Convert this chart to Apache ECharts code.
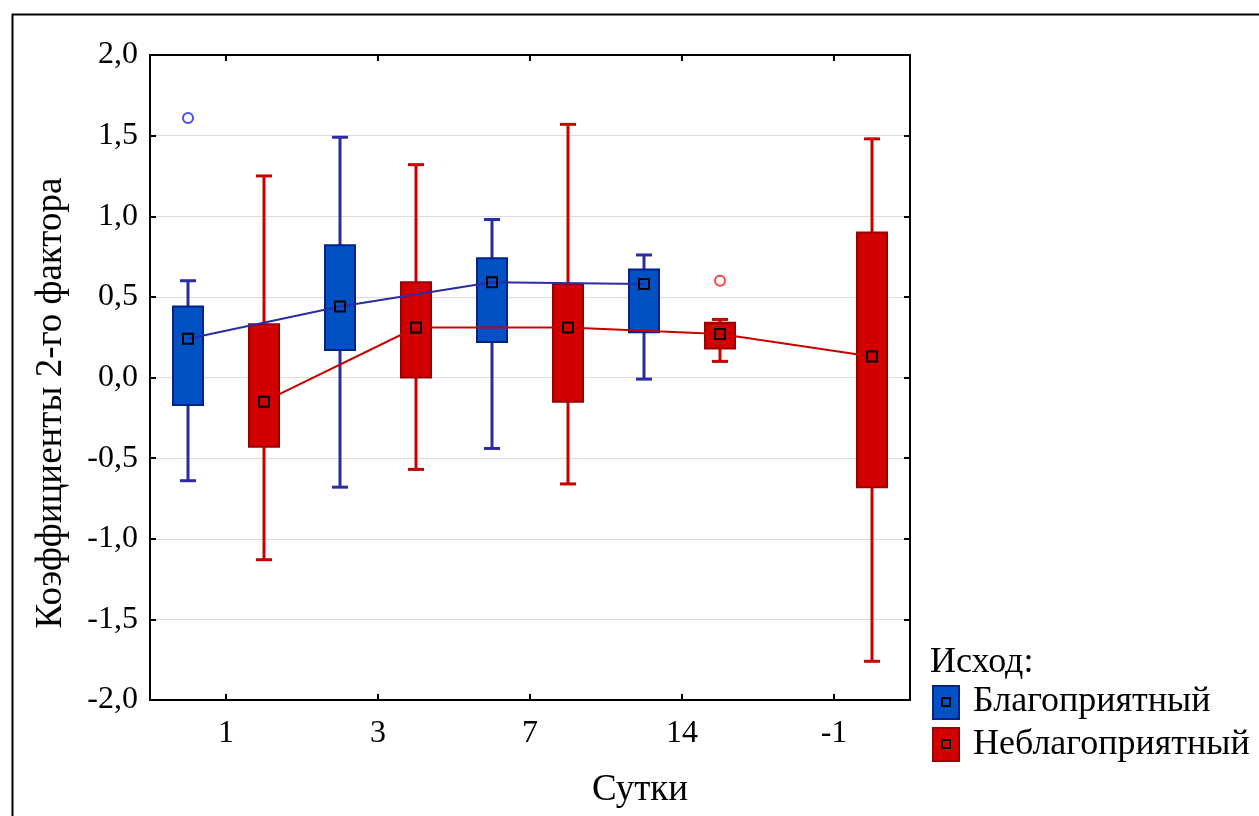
<!DOCTYPE html>
<html>
<head>
<meta charset="utf-8">
<script src="https://cdn.jsdelivr.net/npm/echarts@6/dist/echarts.min.js"></script>
<style>
html,body{margin:0;padding:0;background:#fff;}
#chart{width:1259px;height:816px;}
</style>
</head>
<body>
<div id="chart"></div>
<script>
// ---- data ----
var categories = ['1', '3', '7', '14', '-1'];
var yTicks = [-2.0, -1.5, -1.0, -0.5, 0.0, 0.5, 1.0, 1.5, 2.0];

// Благоприятный (blue) — categories 0..3
var blueIdx  = [0, 1, 2, 3];
var blueLow  = [-0.64, -0.68, -0.44, -0.01];
var blueQ1   = [-0.17, 0.17, 0.22, 0.28];
var blueMean = [0.24, 0.44, 0.59, 0.58];
var blueQ3   = [0.44, 0.82, 0.74, 0.67];
var blueHigh = [0.60, 1.49, 0.98, 0.76];
var blueOutCat = [0];
var blueOutVal = [1.61];

// Неблагоприятный (red) — categories 0..4
var redIdx  = [0, 1, 2, 3, 4];
var redLow  = [-1.13, -0.57, -0.66, 0.10, -1.76];
var redQ1   = [-0.43, 0.00, -0.15, 0.18, -0.68];
var redMean = [-0.15, 0.31, 0.31, 0.27, 0.13];
var redQ3   = [0.33, 0.59, 0.58, 0.34, 0.90];
var redHigh = [1.25, 1.32, 1.57, 0.36, 1.48];
var redOutCat = [3];
var redOutVal = [0.60];

var seriesNames = ['Благоприятный', 'Неблагоприятный'];
var legendTitle = 'Исход:';
var xTitle = 'Сутки';
var yTitle = 'Коэффициенты 2-го фактора';

// ---- styles ----
var FONT = 'Liberation Serif';
var blueStyle = {fill: '#0052c4', border: '#00208c', whisker: '#2b2ba6', line: '#2b2ba6', outlier: '#1a1aff', offset: -0.25};
var redStyle  = {fill: '#d20000', border: '#9c0000', whisker: '#c80000', line: '#c80000', outlier: '#ff1010', offset: 0.25};

function boxData(idx, low, q1, q3, high, off) {
  return idx.map(function (c, i) { return [c + off, low[i], q1[i], q3[i], high[i]]; });
}
function meanData(idx, mean, off) {
  return idx.map(function (c, i) { return [c + off, mean[i]]; });
}
function outData(cats, vals, off) {
  return cats.map(function (c, i) { return [c + off, vals[i]]; });
}

function makeRender(st) {
  return function (params, api) {
    var x = api.value(0);
    var pLow = api.coord([x, api.value(1)]);
    var pQ1 = api.coord([x, api.value(2)]);
    var pQ3 = api.coord([x, api.value(3)]);
    var pHigh = api.coord([x, api.value(4)]);
    var cx = pLow[0];
    var bw = 30, cw = 16;
    return {
      type: 'group',
      children: [
        {type: 'line', shape: {x1: cx, y1: pLow[1], x2: cx, y2: pHigh[1]}, style: {stroke: st.whisker, lineWidth: 3}},
        {type: 'line', shape: {x1: cx - cw / 2, y1: pLow[1], x2: cx + cw / 2, y2: pLow[1]}, style: {stroke: st.whisker, lineWidth: 3}},
        {type: 'line', shape: {x1: cx - cw / 2, y1: pHigh[1], x2: cx + cw / 2, y2: pHigh[1]}, style: {stroke: st.whisker, lineWidth: 3}},
        {type: 'rect', shape: {x: cx - bw / 2, y: pQ3[1], width: bw, height: pQ1[1] - pQ3[1]}, style: {fill: st.fill, stroke: st.border, lineWidth: 2}}
      ]
    };
  };
}

function boxSeries(name, st, data) {
  return {
    name: name, type: 'custom', xAxisIndex: 2, yAxisIndex: 0,
    renderItem: makeRender(st), data: data,
    encode: {x: 0, y: [1, 2, 3, 4]}, z: 2, silent: true
  };
}
function meanSeries(name, st, data) {
  return {
    name: name + ' mean', type: 'line', xAxisIndex: 2, yAxisIndex: 0, data: data,
    symbol: 'rect', symbolSize: 10, showSymbol: true,
    lineStyle: {color: st.line, width: 2},
    itemStyle: {color: 'rgba(0,0,0,0)', borderColor: '#000', borderWidth: 2},
    z: 4, silent: true, animation: false
  };
}
function outSeries(name, st, data) {
  return {
    name: name + ' out', type: 'scatter', xAxisIndex: 2, yAxisIndex: 0, data: data,
    symbol: 'circle', symbolSize: 10,
    itemStyle: {color: 'rgba(0,0,0,0)', borderColor: st.outlier, borderWidth: 2},
    z: 4, silent: true
  };
}

var chart = echarts.init(document.getElementById('chart'), null, {renderer: 'canvas'});

var yLabelFmt = function (v) { return v.toFixed(1).replace('.', ','); };

var axisLineStyle = {show: true, onZero: false, lineStyle: {color: '#000', width: 2}};
var tickStyle = {show: true, inside: true, length: 6, lineStyle: {color: '#000', width: 2}};

var option = {
  backgroundColor: '#ffffff',
  animation: false,
  grid: {left: 150, top: 55, width: 760, height: 645, containLabel: false},
  xAxis: [
    {
      type: 'category', data: categories, position: 'bottom', boundaryGap: true,
      axisLine: axisLineStyle,
      axisTick: Object.assign({alignWithLabel: true}, tickStyle),
      axisLabel: {fontFamily: FONT, fontSize: 32, color: '#000', margin: 18},
      splitLine: {show: false}
    },
    {
      type: 'category', data: categories, position: 'top', boundaryGap: true,
      axisLine: axisLineStyle,
      axisTick: Object.assign({alignWithLabel: true}, tickStyle),
      axisLabel: {show: false}, splitLine: {show: false}
    },
    {
      type: 'value', min: -0.5, max: 4.5, show: false,
      axisLine: {onZero: false}
    }
  ],
  yAxis: [
    {
      type: 'value', min: -2, max: 2, interval: 0.5, position: 'left',
      axisLine: axisLineStyle,
      axisTick: tickStyle,
      axisLabel: {fontFamily: FONT, fontSize: 32, color: '#000', margin: 12, formatter: yLabelFmt},
      splitLine: {show: true, lineStyle: {color: '#dcdcdc', width: 1}}
    },
    {
      type: 'value', min: -2, max: 2, interval: 0.5, position: 'right',
      axisLine: axisLineStyle,
      axisTick: tickStyle,
      axisLabel: {show: false}, splitLine: {show: false}
    }
  ],
  series: [
    boxSeries(seriesNames[0], blueStyle, boxData(blueIdx, blueLow, blueQ1, blueQ3, blueHigh, blueStyle.offset)),
    boxSeries(seriesNames[1], redStyle, boxData(redIdx, redLow, redQ1, redQ3, redHigh, redStyle.offset)),
    meanSeries(seriesNames[0], blueStyle, meanData(blueIdx, blueMean, blueStyle.offset)),
    meanSeries(seriesNames[1], redStyle, meanData(redIdx, redMean, redStyle.offset)),
    outSeries(seriesNames[0], blueStyle, outData(blueOutCat, blueOutVal, blueStyle.offset)),
    outSeries(seriesNames[1], redStyle, outData(redOutCat, redOutVal, redStyle.offset))
  ],
  graphic: [
    {type: 'rect', left: 10, top: 12, shape: {x: 0, y: 0, width: 1262, height: 830}, style: {fill: 'none', stroke: '#000', lineWidth: 2}, z: 0, silent: true},
    {type: 'text', x: 51, y: 403, rotation: Math.PI / 2, style: {text: yTitle, font: '37px "Liberation Serif"', fill: '#000', textAlign: 'center', textVerticalAlign: 'middle'}},
    {type: 'text', x: 640, y: 790, style: {text: xTitle, font: '37px "Liberation Serif"', fill: '#000', textAlign: 'center', textVerticalAlign: 'middle'}},
    {type: 'text', x: 930, y: 663, style: {text: legendTitle, font: '36px "Liberation Serif"', fill: '#000', textAlign: 'left', textVerticalAlign: 'middle'}},
    {type: 'rect', shape: {x: 933, y: 686, width: 26, height: 33}, style: {fill: blueStyle.fill, stroke: blueStyle.border, lineWidth: 2}},
    {type: 'rect', shape: {x: 942, y: 698, width: 8, height: 8}, style: {fill: 'none', stroke: '#000', lineWidth: 2}},
    {type: 'text', x: 973, y: 702, style: {text: seriesNames[0], font: '36px "Liberation Serif"', fill: '#000', textAlign: 'left', textVerticalAlign: 'middle'}},
    {type: 'rect', shape: {x: 933, y: 728, width: 26, height: 33}, style: {fill: redStyle.fill, stroke: redStyle.border, lineWidth: 2}},
    {type: 'rect', shape: {x: 942, y: 740, width: 8, height: 8}, style: {fill: 'none', stroke: '#000', lineWidth: 2}},
    {type: 'text', x: 973, y: 745, style: {text: seriesNames[1], font: '36px "Liberation Serif"', fill: '#000', textAlign: 'left', textVerticalAlign: 'middle'}}
  ]
};
chart.setOption(option);
</script>
</body>
</html>
